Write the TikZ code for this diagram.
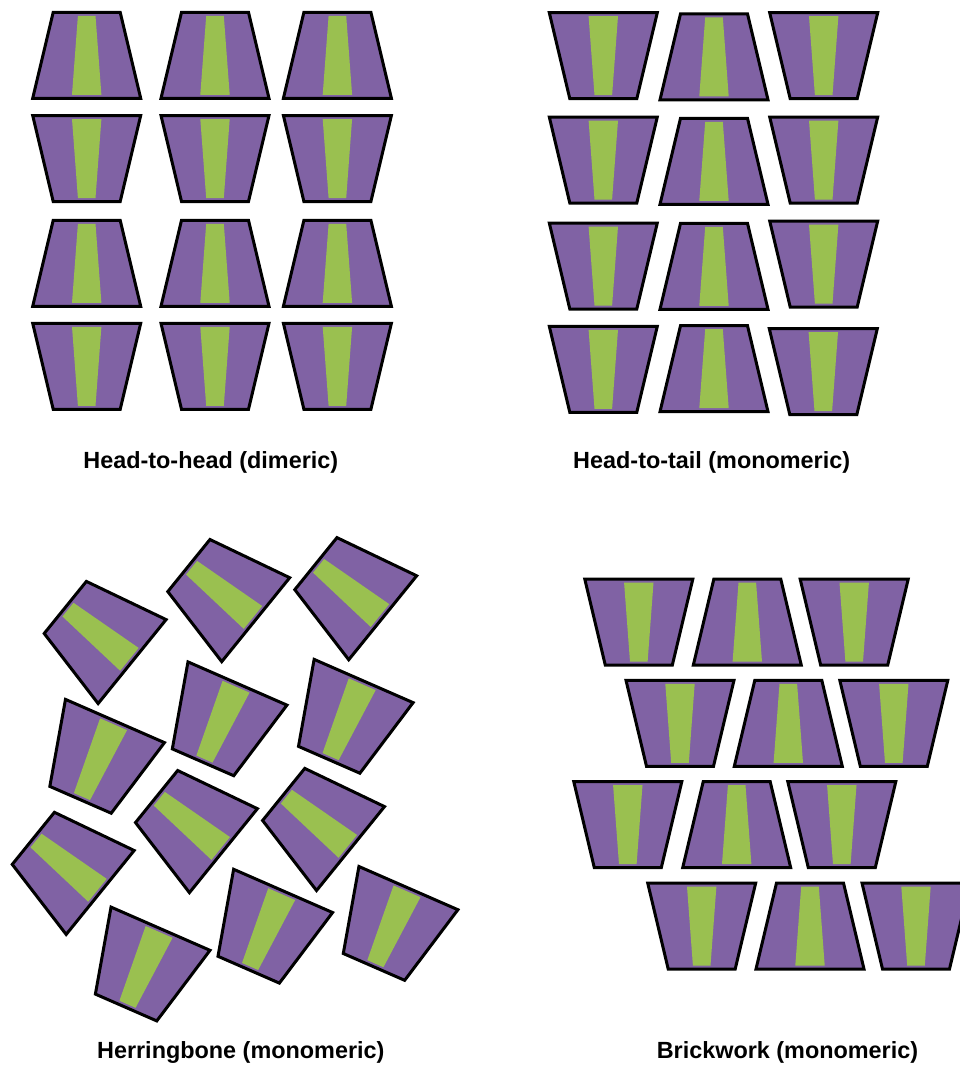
\documentclass[tikz,border=0pt]{standalone}
\usepackage{fontspec}
\setmainfont{Liberation Sans}
\definecolor{brickpurple}{RGB}{128,98,164}
\definecolor{brickgreen}{RGB}{154,192,80}
\tikzset{
  brickline/.style={draw=black,line width=3pt,line join=miter},
  brick/.pic={
    \fill[brickpurple] (-33.5,-43) -- (33.5,-43) -- (54,43) -- (-54,43) -- cycle;
    \fill[brickgreen] (-8.8,-39.5) -- (8.8,-39.5) -- (14.7,39.5) -- (-14.7,39.5) -- cycle;
    \draw[brickline] (-33.5,-43) -- (33.5,-43) -- (54,43) -- (-54,43) -- cycle;
  },
  caption/.style={font=\fontsize{23.4}{27}\selectfont\bfseries,anchor=base,inner sep=0pt}
}
\begin{document}
\begin{tikzpicture}[x=1pt,y=-1pt]
\useasboundingbox (0,0) rectangle (960,1066);
\clip (0,0) rectangle (960,1066);
% ---------- Head-to-head (dimeric) ----------
\foreach \cx in {86.7,215,337.4}{
  \pic at (\cx,55.3) {brick};
  \pic[rotate=180] at (\cx,158.5) {brick};
  \pic at (\cx,263.3) {brick};
  \pic[rotate=180] at (\cx,366.3) {brick};
}
\node[caption] (hh) at (210.8,468.3) {Head-to-head (dimeric)};
% ---------- Head-to-tail (monomeric) ----------
\pic[rotate=180] at (603.3,55.7) {brick};
\pic[rotate=180] at (603.3,160) {brick};
\pic[rotate=180] at (603.3,266) {brick};
\pic[rotate=180] at (603.3,369.3) {brick};
\pic at (714,56.8) {brick};
\pic at (714,161.3) {brick};
\pic at (714,266.3) {brick};
\pic at (714,368.7) {brick};
\pic[rotate=180] at (823.7,55.7) {brick};
\pic[rotate=180] at (823.7,160) {brick};
\pic[rotate=180] at (823.7,264) {brick};
\pic[rotate=180] at (823.3,371.7) {brick};
\node[caption] (ht) at (711.7,468.3) {Head-to-tail (monomeric)};
% ---------- Herringbone (monomeric) ----------
\foreach \cx/\cy in {98.7/634.5,222.3/592.6,349.3/590.7,66.75/865.4,190/823.6,317.1/821.5}{
  \pic[rotate=51] at (\cx,\cy) {brick};
}
\foreach \cx/\cy in {97.75/760.4,220.25/722.9,346.4/720.4,143.3/968.1,265.9/930.3,391.2/927.5}{
  \pic[rotate=156.4] at (\cx,\cy) {brick};
}
\node[caption] (hb) at (240.8,1058.3) {Herringbone (monomeric)};
% ---------- Brickwork (monomeric) ----------
\pic[rotate=180] at (638.8,622.2) {brick};
\pic at (747.3,622.2) {brick};
\pic[rotate=180] at (854.2,622.2) {brick};
\pic[rotate=180] at (680,723.3) {brick};
\pic at (788.3,723.3) {brick};
\pic[rotate=180] at (893.8,723.3) {brick};
\pic[rotate=180] at (627.8,824.7) {brick};
\pic at (736.7,824.7) {brick};
\pic[rotate=180] at (841.8,824.7) {brick};
\pic[rotate=180] at (701.7,926) {brick};
\pic at (810,926) {brick};
\pic[rotate=180] at (916,926) {brick};
\node[caption] (bw) at (787.5,1058.3) {Brickwork (monomeric)};
\end{tikzpicture}
\end{document}
